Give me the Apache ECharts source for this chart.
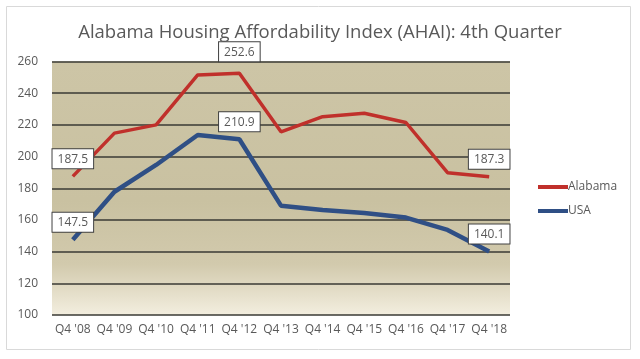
<!DOCTYPE html>
<html><head><meta charset="utf-8">
<script src="https://cdn.jsdelivr.net/npm/echarts@6/dist/echarts.min.js"></script>
<style>html,body{margin:0;padding:0;background:#fff}#c{width:640px;height:359px}</style>
</head><body><div id="c"></div>
<script>
var categories = ["Q4 '08","Q4 '09","Q4 '10","Q4 '11","Q4 '12","Q4 '13","Q4 '14","Q4 '15","Q4 '16","Q4 '17","Q4 '18"];
var alabama = [187.5, 214.8, 220.0, 251.5, 252.6, 215.6, 225.2, 227.3, 221.5, 189.8, 187.3];
var usa = [147.5, 177.8, 194.7, 213.6, 210.9, 169.0, 166.3, 164.4, 161.5, 153.7, 140.1];
var alabamaLabelIdx = [0, 4, 10];
var usaLabelIdx = [0, 4, 10];
var yTicks = {min: 100, max: 260, interval: 20};

function labelStyle(dist) {
  return {show: true, position: 'top', distance: dist, color: '#595959', fontSize: 12,
    fontFamily: 'Open Sans', backgroundColor: '#fff', borderColor: '#404040', borderWidth: 1, padding: [4, 5, 3, 5]};
}
function mk(vals, idx, far) {
  return vals.map(function (v, i) {
    return idx.indexOf(i) >= 0 ? {value: v, label: labelStyle(i === far ? 12 : 8)} : v;
  });
}
var chart = echarts.init(document.getElementById('c'), null, {renderer: 'canvas'});
chart.setOption({
  animation: false,
  title: {text: 'Alabama Housing Affordability Index (AHAI): 4th Quarter', left: 'center', top: 18,
    textStyle: {fontFamily: 'Open Sans', fontSize: 18.5, fontWeight: 'normal', color: '#595959'}},
  graphic: [{type: 'rect', shape: {x: 6.5, y: 6.5, width: 624, height: 343}, style: {fill: 'none', stroke: '#d9d9d9', lineWidth: 1}, z: -1}],
  legend: {orient: 'vertical', left: 533, top: 176, itemWidth: 30, itemHeight: 4, itemGap: 12,
    textStyle: {fontFamily: 'Open Sans', fontSize: 12, color: '#595959', padding: [0, 0, 0, -5]},
    data: [{name: 'Alabama', icon: 'rect'}, {name: 'USA', icon: 'rect'}]},
  grid: {left: 52, right: 130, top: 61.5, bottom: 44, show: true, borderWidth: 0,
    backgroundColor: new echarts.graphic.LinearGradient(0, 0, 0, 1, [
      {offset: 0, color: '#cdc5a6'}, {offset: 0.55, color: '#c9c1a1'}, {offset: 0.8, color: '#d2caad'}, {offset: 1, color: '#f3eedf'}])},
  xAxis: {type: 'category', data: categories, boundaryGap: true,
    axisLine: {show: false}, axisTick: {show: false},
    axisLabel: {color: '#595959', fontFamily: 'Open Sans', fontSize: 12, margin: 9, interval: 0}},
  yAxis: {type: 'value', min: yTicks.min, max: yTicks.max, interval: yTicks.interval,
    axisLine: {show: false}, axisTick: {show: false},
    axisLabel: {color: '#595959', fontFamily: 'Open Sans', fontSize: 12, margin: 14},
    splitLine: {show: true, lineStyle: {color: '#3a3a35', width: 1.5}}},
  series: [
    {name: 'Alabama', type: 'line', data: mk(alabama, alabamaLabelIdx, 4), color: '#c0302b',
      lineStyle: {width: 3.5, color: '#c0302b'}, symbol: 'circle', symbolSize: 0.01, showSymbol: true, z: 3},
    {name: 'USA', type: 'line', data: mk(usa, usaLabelIdx, -1), color: '#2f4f85',
      lineStyle: {width: 4.5, color: '#2f4f85'}, symbol: 'circle', symbolSize: 0.01, showSymbol: true, z: 2}
  ]
});
</script></body></html>
